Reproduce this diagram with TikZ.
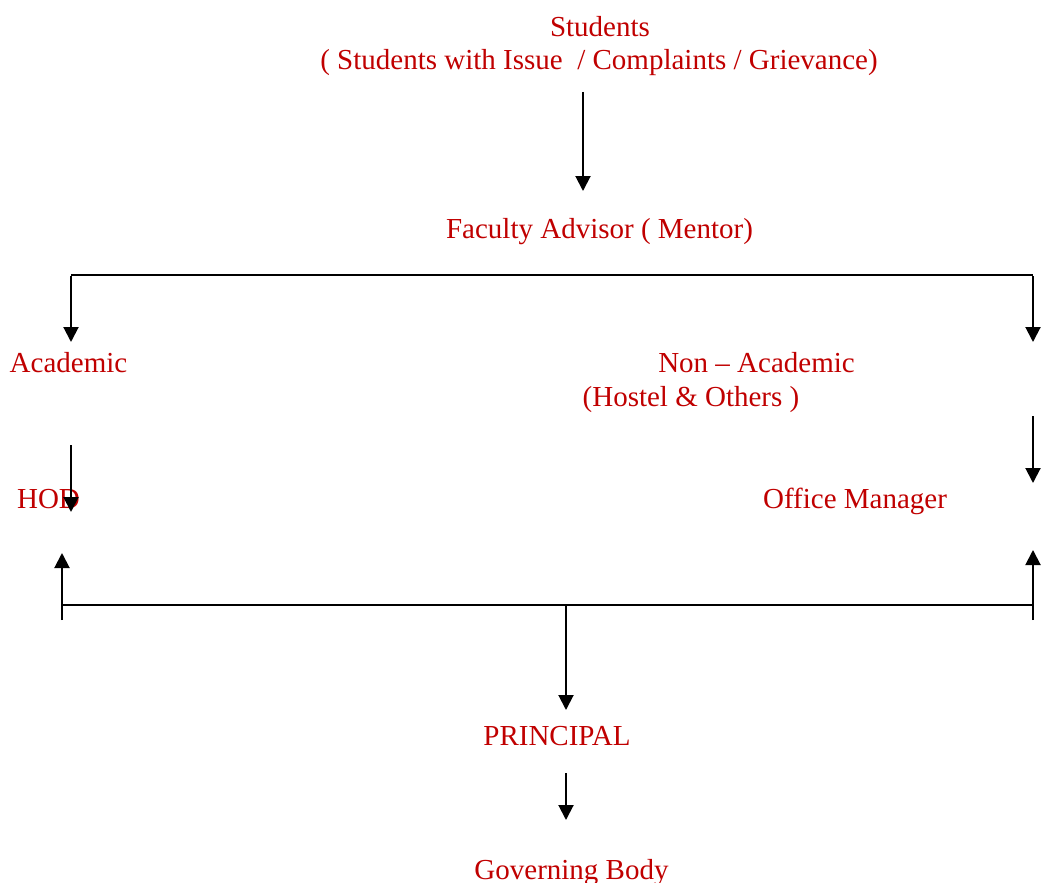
\documentclass[tikz,border=0pt]{standalone}
\usepackage{fontspec}
\setmainfont{Liberation Serif}
\usetikzlibrary{arrows.meta}
\definecolor{txtred}{RGB}{192,0,0}
\begin{document}
\begin{tikzpicture}[x=1pt,y=-1pt,
  lbl/.style={anchor=base,inner sep=0pt,text=txtred,font=\fontsize{29}{34}\selectfont},
  conn/.style={line width=2pt,black},
  arr/.style={conn,-{Triangle[width=15pt,length=15pt]}}]
\useasboundingbox (0,0) rectangle (1042,883);
% texts
\node[lbl] (stud) at (600,37) {Students};
\node[lbl] (studsub) at (599,70) {( Students with Issue \ / Complaints / Grievance)};
\node[lbl] (fac) at (599.5,238) {Faculty Advisor ( Mentor)};
\node[lbl] (acad) at (68.5,372) {Academic};
\node[lbl] (nonac) at (756.5,372) {Non – Academic};
\node[lbl] (hostel) at (691,406) {(Hostel \& Others )};
\node[lbl] (hod) at (48.5,508) {HOD};
\node[lbl] (office) at (855,508) {Office Manager};
\node[lbl] (princ) at (557,745) {PRINCIPAL};
\node[lbl] (gov) at (571.5,879) {Governing Body};
% coordinates
\coordinate (s1) at (583,92);
\coordinate (s2) at (583,191);
\coordinate (tl) at (71,275);
\coordinate (tr) at (1033,275);
\coordinate (al) at (71,342);
\coordinate (ar) at (1033,342);
\coordinate (hl1) at (71,445);
\coordinate (hl2) at (71,512);
\coordinate (hr1) at (1033,416);
\coordinate (hr2) at (1033,483);
\coordinate (ul1) at (62,620);
\coordinate (ul2) at (62,553);
\coordinate (ur1) at (1033,620);
\coordinate (ur2) at (1033,550);
\coordinate (bl) at (62,605);
\coordinate (br) at (1033,605);
\coordinate (bm) at (566,605);
\coordinate (pm) at (566,710);
\coordinate (g1) at (566,773);
\coordinate (g2) at (566,820);
% connectors
\draw[arr] (s1) -- (s2);
\draw[conn] (tl) -- (tr);
\draw[arr] ([yshift=-1pt]tl) -- (al);
\draw[arr] ([yshift=-1pt]tr) -- (ar);
\draw[arr] (hl1) -- (hl2);
\draw[arr] (hr1) -- (hr2);
\draw[arr] (ul1) -- (ul2);
\draw[arr] (ur1) -- (ur2);
\draw[conn] (bl) -- (br);
\draw[arr] (bm) -- (pm);
\draw[arr] (g1) -- (g2);
\end{tikzpicture}
\end{document}
